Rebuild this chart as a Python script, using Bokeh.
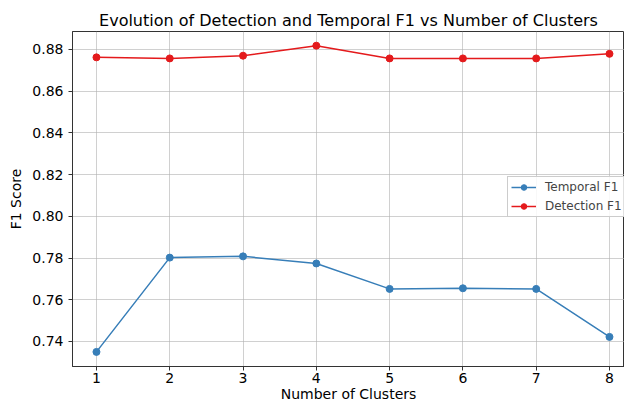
from bokeh.plotting import figure
from bokeh.models import Range1d, FixedTicker, NumeralTickFormatter, Legend, LegendItem
from bokeh.embed import file_html
from bokeh.resources import INLINE

clusters = [1, 2, 3, 4, 5, 6, 7, 8]
temporal_f1 = [0.7350, 0.7802, 0.7808, 0.7774, 0.7652, 0.7655, 0.7652, 0.7422]
detection_f1 = [0.8762, 0.8757, 0.8770, 0.8818, 0.8757, 0.8757, 0.8757, 0.8779]
y_ticks = [0.74, 0.76, 0.78, 0.80, 0.82, 0.84, 0.86, 0.88]

FONT = "DejaVu Sans"
BLUE = "#377eb8"
RED = "#e41a1c"

p = figure(width=624, height=404, output_backend="svg", toolbar_location=None,
           x_range=Range1d(0.673, 8.205), y_range=Range1d(0.728, 0.8886),
           min_border_left=72, min_border_right=0, min_border_top=31, min_border_bottom=38)

p.title.text = "Evolution of Detection and Temporal F1 vs Number of Clusters"
p.title.align = "center"
p.title.text_font = FONT
p.title.text_font_size = "16px"
p.title.text_font_style = "normal"
p.title.text_color = "#000000"
p.title.offset = 0
p.title.standoff = 4

lt = p.line(clusters, temporal_f1, line_color=BLUE, line_width=1.5)
st = p.scatter(clusters, temporal_f1, size=7, fill_color=BLUE, line_color=BLUE)
ld = p.line(clusters, detection_f1, line_color=RED, line_width=1.5)
sd = p.scatter(clusters, detection_f1, size=7, fill_color=RED, line_color=RED)

legend = Legend(items=[LegendItem(label="Temporal F1", renderers=[lt, st]),
                       LegendItem(label="Detection F1", renderers=[ld, sd])],
                location=(435, 149))
legend.label_text_font = FONT
legend.label_text_font_size = "12px"
legend.label_height = 14
legend.glyph_height = 14
legend.glyph_width = 25
legend.label_standoff = 9
legend.spacing = 5
legend.padding = 3
legend.margin = 0
legend.border_line_color = "#cccccc"
legend.border_line_alpha = 1
legend.background_fill_alpha = 0.85
p.add_layout(legend, "center")

p.xaxis.ticker = FixedTicker(ticks=clusters)
p.yaxis.ticker = FixedTicker(ticks=y_ticks)
p.yaxis.formatter = NumeralTickFormatter(format="0.00")
p.xaxis.axis_label = "Number of Clusters"
p.yaxis.axis_label = "F1 Score"

for ax in (p.xaxis, p.yaxis):
    ax.axis_label_text_font = FONT
    ax.axis_label_text_font_size = "14px"
    ax.axis_label_text_font_style = "normal"
    ax.axis_label_text_color = "#000000"
    ax.major_label_text_font = FONT
    ax.major_label_text_font_size = "14px"
    ax.major_label_text_color = "#000000"
    ax.axis_line_color = "#333333"
    ax.major_tick_line_color = "#333333"
    ax.major_tick_in = 0
    ax.major_tick_out = 4
    ax.minor_tick_line_color = None

p.xaxis.major_label_standoff = 2
p.xaxis.axis_label_standoff = 0
p.yaxis.major_label_standoff = 5
p.yaxis.axis_label_standoff = 5

p.grid.grid_line_color = "#b0b0b0"
p.grid.grid_line_alpha = 0.6
p.grid.grid_line_width = 1
p.outline_line_color = "#333333"
p.outline_line_width = 1
p.background_fill_color = "white"
p.border_fill_color = "white"

open("out.html", "w").write(file_html(p, INLINE))
